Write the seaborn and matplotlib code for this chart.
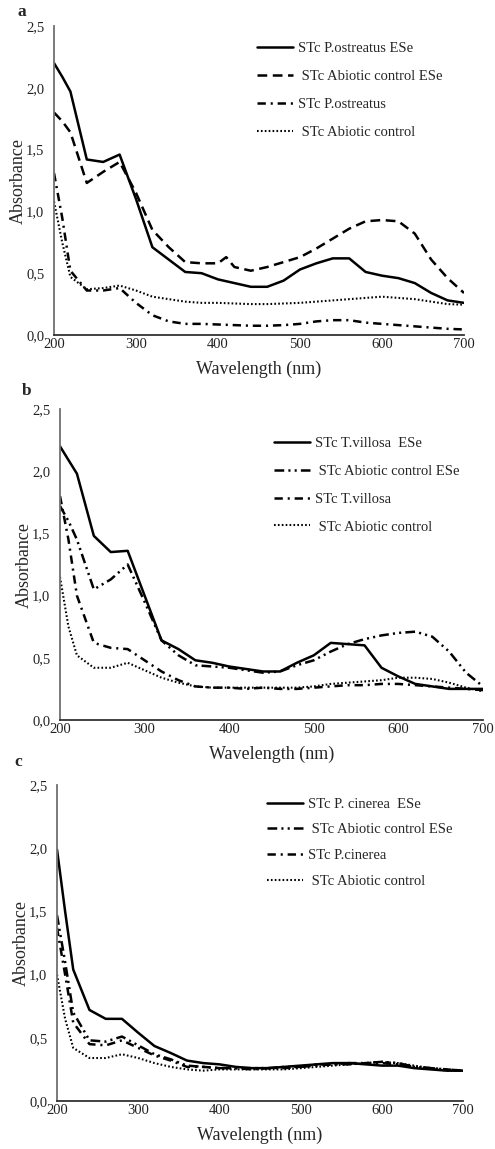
import numpy as np
import pandas as pd
import matplotlib
matplotlib.use("Agg")
import matplotlib.pyplot as plt
from matplotlib.ticker import FuncFormatter
import seaborn as sns

# ---------------- data ----------------
WL = [200, 210, 220, 240, 260, 280, 300, 320, 340, 360, 380, 400, 420, 440, 460,
      480, 500, 520, 540, 560, 580, 600, 620, 640, 660, 680, 700]
WL_A_DASH = [200, 210, 220, 240, 260, 280, 300, 320, 340, 360, 380, 400, 410, 420, 440, 460,
             480, 500, 520, 540, 560, 580, 600, 620, 640, 660, 680, 700]

# Panel a
a_pos_ese = [2.20, 2.09, 1.97, 1.42, 1.40, 1.46, 1.10, 0.71, 0.61, 0.51, 0.50, 0.45, 0.42, 0.39, 0.39,
             0.44, 0.53, 0.58, 0.62, 0.62, 0.51, 0.48, 0.46, 0.42, 0.34, 0.28, 0.26]
a_abio_ese = [1.80, 1.73, 1.64, 1.23, 1.32, 1.40, 1.15, 0.85, 0.71, 0.59, 0.58, 0.58, 0.63, 0.55, 0.52, 0.55,
              0.59, 0.63, 0.70, 0.78, 0.86, 0.92, 0.93, 0.92, 0.82, 0.61, 0.46, 0.34]
a_pos = [1.31, 0.95, 0.52, 0.36, 0.36, 0.38, 0.26, 0.16, 0.11, 0.09, 0.09, 0.085, 0.08, 0.075, 0.075,
         0.08, 0.09, 0.11, 0.12, 0.12, 0.10, 0.09, 0.08, 0.07, 0.06, 0.05, 0.045]
a_abio = [1.08, 0.75, 0.47, 0.37, 0.38, 0.40, 0.36, 0.31, 0.29, 0.27, 0.26, 0.26, 0.255, 0.25, 0.25,
          0.255, 0.26, 0.27, 0.28, 0.29, 0.30, 0.31, 0.30, 0.29, 0.27, 0.25, 0.245]

# Panel b
b_tv_ese = [2.20, 2.09, 1.98, 1.48, 1.35, 1.36, 1.00, 0.64, 0.57, 0.48, 0.46, 0.43, 0.41, 0.39, 0.39,
            0.46, 0.52, 0.62, 0.61, 0.60, 0.42, 0.35, 0.29, 0.27, 0.25, 0.25, 0.25]
b_abio_ese = [1.72, 1.60, 1.45, 1.05, 1.13, 1.25, 0.95, 0.64, 0.52, 0.44, 0.43, 0.42, 0.40, 0.38, 0.39,
              0.44, 0.48, 0.55, 0.61, 0.65, 0.68, 0.70, 0.71, 0.67, 0.55, 0.38, 0.27]
b_tv = [1.80, 1.45, 1.00, 0.62, 0.58, 0.57, 0.48, 0.39, 0.32, 0.27, 0.26, 0.26, 0.25, 0.26, 0.25,
        0.25, 0.26, 0.27, 0.28, 0.28, 0.29, 0.29, 0.28, 0.27, 0.26, 0.25, 0.24]
b_abio = [1.15, 0.75, 0.52, 0.42, 0.42, 0.46, 0.40, 0.34, 0.30, 0.27, 0.26, 0.26, 0.26, 0.26, 0.26,
          0.26, 0.27, 0.29, 0.30, 0.31, 0.32, 0.34, 0.34, 0.33, 0.30, 0.26, 0.23]

# Panel c
c_pc_ese = [1.99, 1.50, 1.04, 0.72, 0.65, 0.65, 0.54, 0.435, 0.38, 0.32, 0.30, 0.29, 0.27, 0.26, 0.26,
            0.27, 0.28, 0.29, 0.30, 0.30, 0.29, 0.28, 0.28, 0.26, 0.25, 0.24, 0.24]
c_abio_ese = [1.47, 1.10, 0.70, 0.48, 0.47, 0.51, 0.44, 0.37, 0.33, 0.28, 0.27, 0.26, 0.26, 0.26, 0.26,
              0.27, 0.27, 0.29, 0.29, 0.30, 0.30, 0.31, 0.30, 0.27, 0.26, 0.25, 0.24]
c_pc = [1.37, 1.00, 0.62, 0.45, 0.44, 0.48, 0.42, 0.36, 0.32, 0.27, 0.27, 0.26, 0.26, 0.25, 0.26,
        0.26, 0.27, 0.28, 0.29, 0.29, 0.30, 0.30, 0.29, 0.27, 0.26, 0.25, 0.24]
c_abio = [1.00, 0.65, 0.42, 0.34, 0.34, 0.37, 0.34, 0.30, 0.27, 0.25, 0.24, 0.25, 0.25, 0.25, 0.25,
          0.25, 0.26, 0.27, 0.28, 0.29, 0.30, 0.31, 0.30, 0.28, 0.26, 0.24, 0.24]

X_TICKS = [200, 300, 400, 500, 600, 700]
Y_TICKS = [0.0, 0.5, 1.0, 1.5, 2.0, 2.5]

# ---------------- style ----------------
sns.set_style("white")
plt.rcParams["font.family"] = ["Liberation Serif", "DejaVu Serif"]
plt.rcParams["lines.scale_dashes"] = False

W, H = 495, 1149
fig = plt.figure(figsize=(W / 100, H / 100), dpi=100)

SOLID = "-"
DASH = (0, (7, 4))
DASHDOT = (0, (6, 3.5, 1.5, 3.5))
DASHDOTDOT = (0, (7, 3, 1.5, 3, 1.5, 3))
DOT = (0, (1.2, 1.6))


def px_axes(left, right, top, bottom):
    return fig.add_axes([left / W, 1 - bottom / H, (right - left) / W, (bottom - top) / H])


comma = FuncFormatter(lambda v, p: f"{v:.1f}".replace(".", ","))


def style_axes(ax):
    ax.set_xlim(200, 700)
    ax.set_ylim(0, 2.5)
    ax.set_xticks(X_TICKS)
    ax.set_yticks(Y_TICKS)
    ax.yaxis.set_major_formatter(comma)
    ax.tick_params(axis="both", length=0, labelsize=10.5, colors="#222222")
    ax.tick_params(axis="y", pad=7)
    ax.tick_params(axis="x", pad=2.5)
    for s in ["top", "right"]:
        ax.spines[s].set_visible(False)
    ax.spines["left"].set_color("#707070")
    ax.spines["left"].set_linewidth(1.3)
    ax.spines["bottom"].set_color("#333333")
    ax.spines["bottom"].set_linewidth(1.3)
    ax.set_xlabel("Wavelength (nm)", fontsize=13, labelpad=6.5)
    ax.set_ylabel("Absorbance", fontsize=13, labelpad=-1)
    ax.grid(False)


def draw(ax, series, legend_anchor, spacing):
    for x, y, lab, ls, lw in series:
        df = pd.DataFrame({"Wavelength": x, "Absorbance": y})
        sns.lineplot(data=df, x="Wavelength", y="Absorbance", ax=ax, color="black",
                     linestyle=ls, linewidth=lw, label=lab)
    style_axes(ax)
    ax.legend(loc="upper left", bbox_to_anchor=legend_anchor, frameon=False, fontsize=10.5,
              handlelength=2.5, handletextpad=0.3, labelspacing=spacing, borderpad=0,
              borderaxespad=0)


ax_a = px_axes(54, 464, 26, 335)
draw(ax_a, [
    (WL, a_pos_ese, "STc P.ostreatus ESe", SOLID, 1.8),
    (WL_A_DASH, a_abio_ese, " STc Abiotic control ESe", DASH, 1.8),
    (WL, a_pos, "STc P.ostreatus", DASHDOT, 1.8),
    (WL, a_abio, " STc Abiotic control", DOT, 1.5),
], (0.495, 0.948), 1.0)

ax_b = px_axes(60, 483, 409, 720)
draw(ax_b, [
    (WL, b_tv_ese, "STc T.villosa  ESe", SOLID, 1.8),
    (WL, b_abio_ese, " STc Abiotic control ESe", DASHDOTDOT, 1.8),
    (WL, b_tv, "STc T.villosa", DASHDOT, 1.8),
    (WL, b_abio, " STc Abiotic control", DOT, 1.5),
], (0.506, 0.91), 1.0)

ax_c = px_axes(57, 463, 785, 1101)
draw(ax_c, [
    (WL, c_pc_ese, "STc P. cinerea  ESe", SOLID, 1.8),
    (WL, c_abio_ese, " STc Abiotic control ESe", DASHDOTDOT, 1.8),
    (WL, c_pc, "STc P.cinerea", DASHDOT, 1.8),
    (WL, c_abio, " STc Abiotic control", DOT, 1.5),
], (0.517, 0.96), 0.85)

for lab, x, y in [("a", 22, 12), ("b", 27, 391), ("c", 18, 762)]:
    fig.text(x / W, 1 - y / H, lab, fontsize=12.5, fontweight="bold", ha="center", va="center")

fig.savefig("out.png", dpi=100)
